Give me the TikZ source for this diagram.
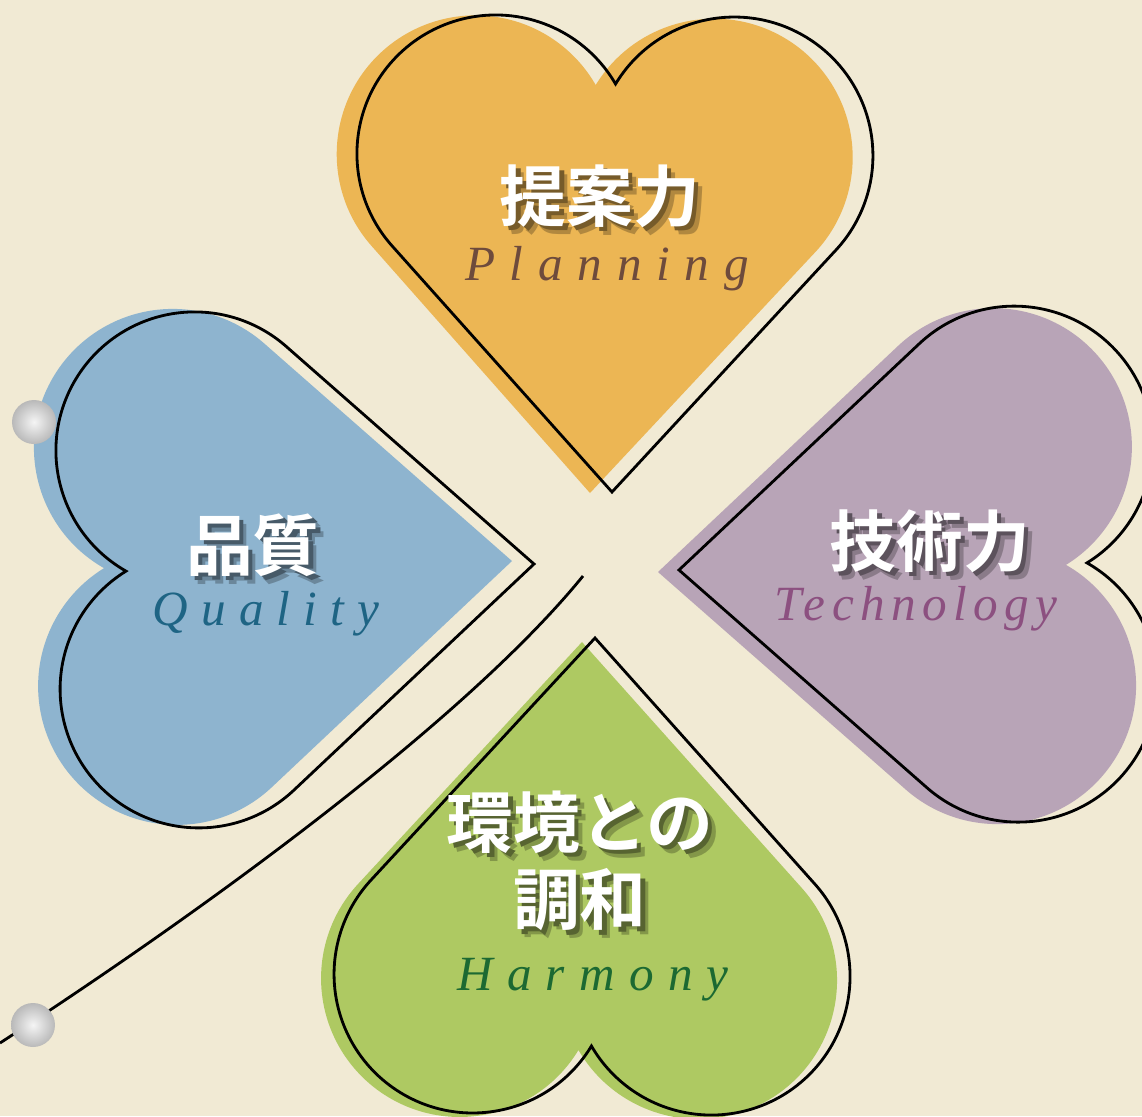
\documentclass[tikz,border=0pt]{standalone}
\usepackage{fontspec}
\setmainfont{Liberation Serif}
\newfontfamily\jpfont{Noto Sans CJK JP}[BoldFont={* Bold}]
\usepackage{tikz}
\definecolor{paper}{RGB}{241, 234, 212}
\definecolor{planning}{RGB}{236, 182, 84}
\definecolor{quality}{RGB}{142, 180, 207}
\definecolor{technology}{RGB}{184, 164, 183}
\definecolor{harmony}{RGB}{174, 201, 98}
\definecolor{planningtxt}{RGB}{110, 75, 60}
\definecolor{qualitytxt}{RGB}{30, 100, 132}
\definecolor{technologytxt}{RGB}{140, 80, 128}
\definecolor{harmonytxt}{RGB}{28, 105, 50}

% one leaf: tip at the origin, notch straight above it
\tikzset{
  leaf/.pic={
    \path[pic actions] (0, 0) -- (-2.219, 2.440)
      arc[start angle=222.3, end angle=30.65, radius=1.387]
      arc[start angle=149.35, end angle=-42.3, radius=1.387] -- cycle;
  },
  kanji/.style={font=\jpfont\bfseries\fontsize{19}{22}\selectfont, text=white, align=center},
  roman/.style={anchor=base},
  pin/.style={circle, minimum size=0.44cm, inner sep=0, shading=radial,
              inner color=gray!8, outer color=gray!55}
}

% white text with its shadow, in the leaf colour #1
\newcommand{\shadowed}[2]{%
  \leavevmode\rlap{\kern2.2pt\raisebox{-2.2pt}{\color{#1!75!black}#2}}%
  \rlap{\kern1.2pt\raisebox{-1.2pt}{\color{#1!50!black}#2}}#2}
\newcommand{\romanfont}[1]{\itshape\fontsize{14}{16}\selectfont\addfontfeatures{LetterSpace=#1}}

\begin{document}
\begin{tikzpicture}[line width=0.8pt]

\fill[paper] (0, 0) rectangle (11.42, -11.16);
\clip (0, 0) rectangle (11.42, -11.16);

% coloured leaves, then their outlines
\foreach \x/\y/\a/\c in {5.90/-4.93/-0.8/planning, 5.12/-5.61/91/quality,
                         6.58/-5.72/-89/technology, 5.82/-6.42/179.5/harmony}
  \pic[fill=\c, rotate=\a] at (\x, \y) {leaf};

\foreach \x/\y/\a in {6.12/-4.92/-0.5, 5.34/-5.64/91,
                      6.79/-5.70/-89, 5.95/-6.38/179.5}
  \pic[draw, rotate=\a] at (\x, \y) {leaf};

% stem
\coordinate (stemtop) at (5.83, -5.76);
\coordinate (stemend) at (0, -10.43);
\draw (stemtop) .. controls (4.7, -7.15) and (2.2, -9.0) .. (stemend);

\node[pin] (pintop) at (0.34, -4.22) {};
\node[pin] (pinbottom) at (0.33, -10.25) {};

% labels
\node[kanji] (plan) at (6.00, -2.00) {\shadowed{planning}{提案力}};
\node[roman, text=planningtxt, font=\romanfont{30}] (planen) at (6.07, -2.80) {Planning};

\node[kanji] (qual) at (2.53, -5.49) {\shadowed{quality}{品質}};
\node[roman, text=qualitytxt, font=\romanfont{27}] (qualen) at (2.66, -6.25) {Quality};

\node[kanji] (tech) at (9.30, -5.45) {\shadowed{technology}{技術力}};
\node[roman, text=technologytxt, font=\romanfont{13}] (techen) at (9.16, -6.20) {Technology};

\node[kanji] (harm) at (5.80, -8.65) {\shadowed{harmony}{環境との}\\\shadowed{harmony}{調和}};
\node[roman, text=harmonytxt, font=\romanfont{29}] (harmen) at (5.93, -9.90) {Harmony};

\end{tikzpicture}
\end{document}
